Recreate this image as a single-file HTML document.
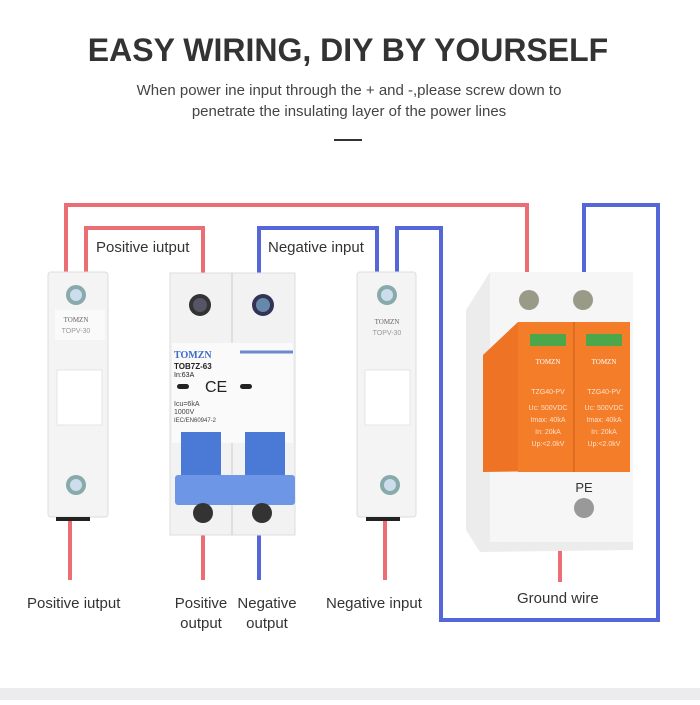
<!DOCTYPE html>
<html><head><meta charset="utf-8"><style>
body{margin:0;width:700px;height:700px;background:#fff;overflow:hidden;font-family:"Liberation Sans",sans-serif}
</style></head><body>
<svg width="700" height="700" xmlns="http://www.w3.org/2000/svg" font-family="Liberation Sans, sans-serif">
<rect x="0" y="688" width="700" height="12" fill="#ececee"/>
<text x="348" y="61" text-anchor="middle" font-size="32" font-weight="bold" fill="#333">EASY WIRING, DIY BY YOURSELF</text>
<text x="349" y="95" text-anchor="middle" font-size="15" fill="#444">When power ine input through the + and -,please screw down to</text>
<text x="349" y="116" text-anchor="middle" font-size="15" fill="#444">penetrate the insulating layer of the power lines</text>
<rect x="334" y="139" width="28" height="2" fill="#333"/>
<g fill="none" stroke-width="4" stroke-linejoin="miter">
<g stroke="#ec6e75">
<polyline points="66,275 66,205 527,205 527,275"/>
<polyline points="86,275 86,228 203,228 203,275"/>
<line x1="70" y1="515" x2="70" y2="580"/>
<line x1="203" y1="530" x2="203" y2="580"/>
<line x1="385" y1="515" x2="385" y2="580"/>
<line x1="560" y1="548" x2="560" y2="582"/>
</g>
<g stroke="#5566d8">
<polyline points="259,275 259,228 377,228 377,275"/>
<polyline points="397,275 397,228 441,228 441,620 658,620 658,205 584,205 584,275"/>
<line x1="259" y1="530" x2="259" y2="580"/>
</g>
</g>
<text x="96" y="252" font-size="15" fill="#333">Positive iutput</text>
<text x="268" y="252" font-size="15" fill="#333">Negative input</text>
<g>
<rect x="48" y="272" width="60" height="245" rx="3" fill="#f4f4f4" stroke="#ddd"/>
<rect x="55" y="310" width="50" height="30" fill="#fafafa"/>
<rect x="57" y="370" width="45" height="55" fill="#fff" stroke="#e4e4e4"/>
<circle cx="76" cy="295" r="10" fill="#8aa"/><circle cx="76" cy="295" r="6" fill="#cde"/>
<circle cx="76" cy="485" r="10" fill="#8aa"/><circle cx="76" cy="485" r="6" fill="#cde"/>
<text x="76" y="322" text-anchor="middle" font-size="7" fill="#666" font-family="Liberation Serif">TOMZN</text>
<text x="76" y="333" text-anchor="middle" font-size="7" fill="#999">TOPV-30</text>
<rect x="56" y="517" width="34" height="4" fill="#222"/>
</g>
<g>
<rect x="357" y="272" width="59" height="245" rx="3" fill="#f4f4f4" stroke="#ddd"/>
<rect x="365" y="370" width="45" height="55" fill="#fff" stroke="#e4e4e4"/>
<circle cx="387" cy="295" r="10" fill="#8aa"/><circle cx="387" cy="295" r="6" fill="#cde"/>
<circle cx="390" cy="485" r="10" fill="#8aa"/><circle cx="390" cy="485" r="6" fill="#cde"/>
<text x="387" y="324" text-anchor="middle" font-size="7" fill="#666" font-family="Liberation Serif">TOMZN</text>
<text x="387" y="335" text-anchor="middle" font-size="7" fill="#999">TOPV-30</text>
<rect x="366" y="517" width="34" height="4" fill="#222"/>
</g>
<g>
<rect x="170" y="273" width="125" height="262" fill="#f2f2f2" stroke="#ddd"/>
<line x1="232" y1="273" x2="232" y2="535" stroke="#ccc"/>
<rect x="172" y="343" width="121" height="100" fill="#fafafa"/>
<circle cx="200" cy="305" r="11" fill="#333"/><circle cx="200" cy="305" r="7" fill="#556"/>
<circle cx="263" cy="305" r="11" fill="#335"/><circle cx="263" cy="305" r="7" fill="#68a"/>
<text x="174" y="358" font-size="10" font-weight="bold" fill="#3a6ac8" font-family="Liberation Serif">TOMZN</text>
<text x="174" y="369" font-size="8" font-weight="bold" fill="#222">TOB7Z-63</text>
<text x="174" y="377" font-size="7" fill="#222">In:63A</text>
<text x="205" y="392" font-size="16" fill="#222">CE</text>
<rect x="177" y="384" width="12" height="5" rx="2.5" fill="#222"/>
<rect x="240" y="384" width="12" height="5" rx="2.5" fill="#222"/>
<line x1="240" y1="352" x2="293" y2="352" stroke="#6a8ad0" stroke-width="3"/>
<text x="174" y="406" font-size="7" fill="#444">Icu=6kA</text>
<text x="174" y="414" font-size="7" fill="#444">1000V</text>
<text x="174" y="422" font-size="6" fill="#444">IEC/EN60947-2</text>
<rect x="181" y="432" width="40" height="55" fill="#4b7ad6"/>
<rect x="245" y="432" width="40" height="55" fill="#4b7ad6"/>
<rect x="175" y="475" width="120" height="30" rx="3" fill="#6d97e6"/>
<circle cx="203" cy="513" r="10" fill="#333"/><circle cx="262" cy="513" r="10" fill="#333"/>
</g>
<g>
<polygon points="490,272 633,272 633,550 480,552 466,530 466,310" fill="#ececec"/>
<rect x="490" y="272" width="143" height="270" fill="#f6f6f6"/>
<circle cx="529" cy="300" r="10" fill="#9a9a88"/><circle cx="583" cy="300" r="10" fill="#9a9a88"/>
<circle cx="584" cy="508" r="10" fill="#999"/>
<text x="584" y="492" text-anchor="middle" font-size="13" fill="#333">PE</text>
<polygon points="483,355 518,322 630,322 630,470 483,472" fill="#ee7324"/>
<rect x="518" y="322" width="112" height="150" fill="#f47d2a"/>
<line x1="574" y1="322" x2="574" y2="472" stroke="#c85a18"/>
<rect x="530" y="334" width="36" height="12" fill="#4ca74a"/>
<rect x="586" y="334" width="36" height="12" fill="#4ca74a"/>
<g font-size="7" fill="#fde0c8" text-anchor="middle">
<text x="548" y="364" font-family="Liberation Serif" fill="#fff">TOMZN</text>
<text x="604" y="364" font-family="Liberation Serif" fill="#fff">TOMZN</text>
<text x="548" y="394">TZG40-PV</text><text x="604" y="394">TZG40-PV</text>
<text x="548" y="410">Uc: 500VDC</text><text x="604" y="410">Uc: 500VDC</text>
<text x="548" y="422">Imax: 40kA</text><text x="604" y="422">Imax: 40kA</text>
<text x="548" y="434">In: 20kA</text><text x="604" y="434">In: 20kA</text>
<text x="548" y="446">Up:&lt;2.0kV</text><text x="604" y="446">Up:&lt;2.0kV</text>
</g>
</g>
<g font-size="15" fill="#333">
<text x="27" y="608">Positive iutput</text>
<text x="201" y="608" text-anchor="middle">Positive</text>
<text x="201" y="628" text-anchor="middle">output</text>
<text x="267" y="608" text-anchor="middle">Negative</text>
<text x="267" y="628" text-anchor="middle">output</text>
<text x="326" y="608">Negative input</text>
<text x="517" y="603">Ground wire</text>
</g>
</svg>
</body></html>
